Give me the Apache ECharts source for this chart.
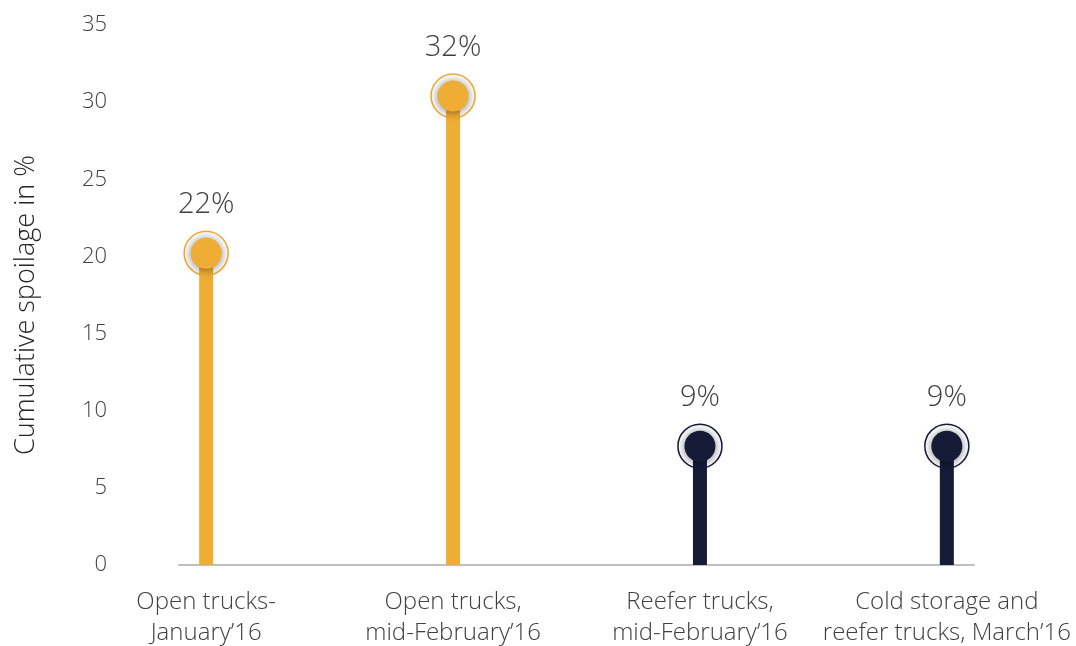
<!DOCTYPE html>
<html>
<head>
<meta charset="utf-8">
<script src="https://cdn.jsdelivr.net/npm/echarts@6/dist/echarts.min.js"></script>
<style>
html,body{margin:0;padding:0;background:#fff;}
#chart{width:1076px;height:646px;}
</style>
</head>
<body>
<div id="chart"></div>
<script>
const categories = ["Open trucks-\nJanuary\u201916", "Open trucks,\nmid-February\u201916", "Reefer trucks,\nmid-February\u201916", "Cold storage and\nreefer trucks, March\u201916"];
const values = [20.2, 30.4, 7.7, 7.7];
const valueLabels = ["22%", "32%", "9%", "9%"];
const colors = ["#F0AD36", "#F0AD36", "#161B38", "#161B38"];
const yTicks = [0, 5, 10, 15, 20, 25, 30, 35];

const FONT = "'Open Sans', 'Segoe UI', sans-serif";
const pts = values.map((v, i) => [i, v]);

const chart = echarts.init(document.getElementById('chart'));
chart.setOption({
  animation: false,
  grid: {left: 179, right: 102, top: 25, bottom: 81, containLabel: false, outerBoundsMode: 'none'},
  xAxis: {
    type: 'value', min: -0.11, max: 3.11,
    axisLine: {show: true, lineStyle: {color: '#BFBFBF', width: 2}},
    axisTick: {show: false},
    splitLine: {show: false},
    axisLabel: {
      customValues: [0, 1, 2, 3],
      formatter: v => categories[Math.round(v)] || '',
      color: '#404040', fontSize: 24, fontFamily: FONT, fontWeight: 300,
      lineHeight: 31, margin: 22
    }
  },
  yAxis: {
    type: 'value', min: yTicks[0], max: yTicks[yTicks.length - 1], interval: 5,
    axisLine: {show: false}, axisTick: {show: false}, splitLine: {show: false},
    axisLabel: {color: '#404040', fontSize: 22, fontFamily: FONT, fontWeight: 300, margin: 72},
    name: 'Cumulative spoilage in %', nameLocation: 'middle', nameGap: 139,
    nameTextStyle: {color: '#262626', fontSize: 27, fontFamily: FONT, fontWeight: 300, padding: [0, 20, 0, 0]}
  },
  series: [
    {
      type: 'bar', barWidth: 14, z: 2,
      data: pts.map((p, i) => ({value: p, itemStyle: {color: colors[i]}}))
    },
    {
      type: 'scatter', symbol: 'circle', symbolSize: 44, z: 3,
      data: pts.map((p, i) => ({value: p, itemStyle: {opacity: 1, color: 'rgba(255,255,255,0)', borderColor: colors[i], borderWidth: 1.5}})),
      label: {
        show: true, position: 'top', distance: 11,
        formatter: p => valueLabels[p.dataIndex],
        color: '#404040', fontSize: 29, fontFamily: FONT, fontWeight: 300
      }
    },
    {
      type: 'scatter', symbol: 'circle', symbolSize: 31, z: 4,
      data: pts.map((p, i) => ({value: p, itemStyle: {opacity: 1, color: colors[i], shadowBlur: 10, shadowColor: 'rgba(0,0,0,0.5)', shadowOffsetY: 1}}))
    }
  ]
});
</script>
</body>
</html>
